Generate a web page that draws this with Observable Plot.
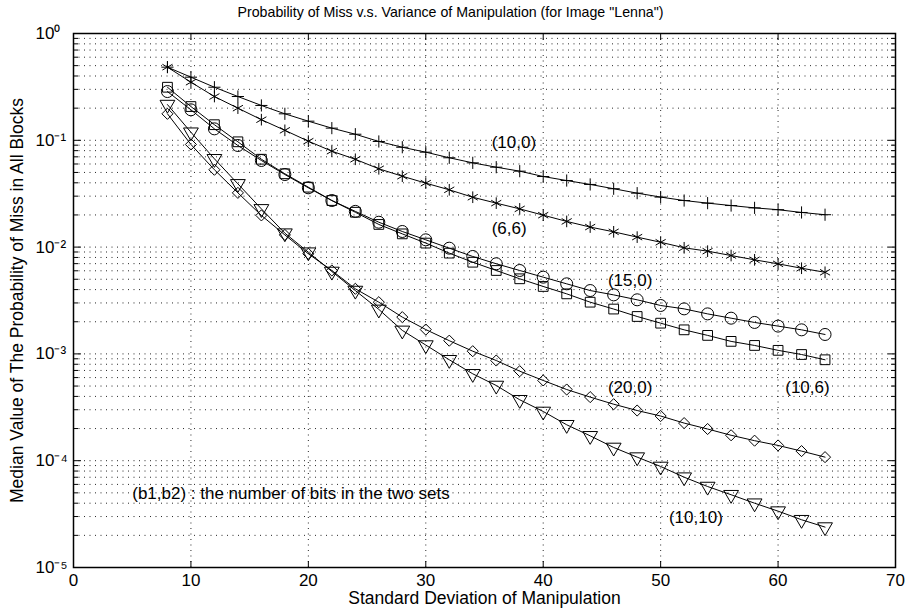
<!DOCTYPE html>
<html><head><meta charset="utf-8">
<script src="https://cdn.jsdelivr.net/npm/d3@7"></script>
<script src="https://cdn.jsdelivr.net/npm/@observablehq/plot@0.6"></script>
<style>
body{margin:0;background:#fff}
#chart svg{font-family:"Liberation Sans",Arial,Helvetica,sans-serif}
</style>
</head><body><div id="chart"></div>
<script>
// ---- data ----
const sigma = [8,10,12,14,16,18,20,22,24,26,28,30,32,34,36,38,40,42,44,46,48,50,52,54,56,58,60,62,64];

const p_10_0  = [0.484,0.390,0.314,0.257,0.212,0.177,0.151,0.130,0.114,0.0975,0.0861,0.0774,0.0686,0.0615,0.0560,0.0514,0.0458,0.0420,0.0386,0.0352,0.0320,0.0294,0.0273,0.0258,0.0245,0.0233,0.0224,0.0211,0.0201];
const p_6_6   = [0.484,0.350,0.257,0.200,0.156,0.124,0.0981,0.0791,0.0664,0.0541,0.0461,0.0397,0.0344,0.0293,0.0258,0.0228,0.0199,0.0174,0.0154,0.0139,0.0124,0.0111,0.00985,0.00916,0.00834,0.00760,0.00697,0.00634,0.00581];
const p_15_0  = [0.286,0.193,0.128,0.0894,0.0647,0.0478,0.0359,0.0273,0.0216,0.0171,0.0140,0.0117,0.00977,0.00817,0.00698,0.00604,0.00523,0.00453,0.00392,0.00357,0.00321,0.00284,0.00264,0.00237,0.00216,0.00197,0.00182,0.00168,0.00152];
const p_10_6  = [0.314,0.207,0.140,0.0968,0.0665,0.0486,0.0364,0.0273,0.0212,0.0163,0.0133,0.0109,0.00878,0.00722,0.00604,0.00505,0.00428,0.00365,0.00305,0.00263,0.00224,0.00194,0.00168,0.00149,0.00131,0.00120,0.00108,0.000987,0.000881];
const p_20_0  = [0.177,0.0914,0.0530,0.0322,0.0198,0.0130,0.00866,0.00604,0.00407,0.00305,0.00221,0.00169,0.00133,0.00106,0.000867,0.000689,0.000564,0.000464,0.000394,0.000338,0.000295,0.000262,0.000225,0.000198,0.000173,0.000154,0.000139,0.000123,0.000108];
const p_10_10 = [0.216,0.119,0.0671,0.0391,0.0228,0.0135,0.00896,0.00591,0.00392,0.00261,0.00166,0.00121,0.000881,0.000651,0.000506,0.000372,0.000289,0.000217,0.000171,0.000133,0.000108,0.0000883,0.0000701,0.0000573,0.0000480,0.0000400,0.0000337,0.0000280,0.0000239];

const seriesNames   = ["(10,0)","(6,6)","(15,0)","(10,6)","(20,0)","(10,10)"];
const seriesValues  = [p_10_0, p_6_6, p_15_0, p_10_6, p_20_0, p_10_10];
const seriesSymbols = ["plus","asterisk","circle","square","diamond2","triangle"];

const annText = ["(10,0)","(6,6)","(15,0)","(20,0)","(10,6)","(10,10)"];
const annX    = [37.5, 37.1, 47.4, 47.4, 62.5, 53.0];
const annY    = [0.0960, 0.0149, 0.00487, 0.000488, 0.000488, 0.0000296];
const noteText = "(b1,b2) : the number of bits in the two sets";
const noteX = 5.0, noteY = 0.0000493;

const xTicks = [0,10,20,30,40,50,60,70];
const yMajor = [1e-5,1e-4,1e-3,1e-2,1e-1,1];
const yMinor = yMajor.slice(0,-1).flatMap(d => [2,3,4,5,6,7,8,9].map(k => k*d));

const titleText = "Probability of Miss v.s. Variance of Manipulation (for Image \"Lenna\")";
const xLabel = "Standard Deviation of Manipulation";
const yLabel = "Median Value of The Probability of Miss in All Blocks";

// ---- helpers ----
const sup = {"0":"⁰","1":"¹","2":"²","3":"³","4":"⁴","5":"⁵","6":"⁶","7":"⁷","8":"⁸","9":"⁹","-":"⁻"};
const fmtPow = d => "10" + String(Math.round(Math.log10(d))).split("").map(c => sup[c]).join("");

const symR = {plus:4, asterisk:5.5, circle:6, square:5.5, diamond2:5, triangle:5.5};

const seriesMarks = seriesNames.flatMap((name, i) => {
  const rows = sigma.map((x, j) => ({x, y: seriesValues[i][j]}));
  const sym = seriesSymbols[i];
  return [
    Plot.line(rows, {x: "x", y: "y", stroke: "#000", strokeWidth: 1}),
    Plot.dot(rows, {x: "x", y: "y", symbol: sym, r: symR[sym], stroke: "#000", fill: "none", strokeWidth: 1, rotate: sym === "triangle" ? 180 : 0})
  ];
});

const dotted = {stroke: "#000", strokeOpacity: 0.85, strokeWidth: 1, strokeDasharray: "1,4.5"};
const tickOpts = {tickFormat: null, text: null, label: null, stroke: "#000"};

const chart = Plot.plot({
  width: 913, height: 611,
  marginLeft: 73, marginRight: 18, marginTop: 33, marginBottom: 44,
  style: {background: "#fff", color: "#000", fontSize: "16px"},
  x: {domain: [0, 70]},
  y: {type: "log", domain: [1e-5, 1]},
  marks: [
    Plot.gridX(xTicks.slice(1, -1), dotted),
    Plot.gridY(yMajor.concat(yMinor), dotted),
    // inward tick marks
    Plot.axisX(xTicks, {anchor: "bottom", tickSize: -6, ...tickOpts}),
    Plot.axisX(xTicks, {anchor: "top", tickSize: -6, ...tickOpts}),
    Plot.axisY(yMajor, {anchor: "left", tickSize: -8, ...tickOpts}),
    Plot.axisY(yMajor, {anchor: "right", tickSize: -8, ...tickOpts}),
    Plot.axisY(yMinor, {anchor: "left", tickSize: -5, ...tickOpts}),
    Plot.axisY(yMinor, {anchor: "right", tickSize: -5, ...tickOpts}),
    // tick labels
    Plot.axisX(xTicks, {anchor: "bottom", tickSize: 0, tickPadding: 6, tickFormat: d => String(d), label: null, fontSize: 17}),
    Plot.text(yMajor, {y: d => d, frameAnchor: "left", dx: -38, textAnchor: "start", text: fmtPow, fontSize: 17}),
    Plot.frame({stroke: "#000", strokeWidth: 1.5}),
    ...seriesMarks,
    Plot.text(annText, {x: (d, i) => annX[i], y: (d, i) => annY[i], text: d => d, fontSize: 17, fill: "#000"}),
    Plot.text([noteText], {x: () => noteX, y: () => noteY, text: d => d, textAnchor: "start", fontSize: 17, fill: "#000"}),
    Plot.text([titleText], {frameAnchor: "top", textAnchor: "middle", lineAnchor: "middle", dx: -34, dy: -21, text: d => d, fontSize: 14.2}),
    Plot.text([xLabel], {frameAnchor: "bottom", textAnchor: "middle", lineAnchor: "middle", dy: 31, text: d => d, fontSize: 17.5}),
    Plot.text([yLabel], {frameAnchor: "left", textAnchor: "middle", lineAnchor: "middle", dx: -56, rotate: -90, text: d => d, fontSize: 17.5})
  ]
});
document.getElementById("chart").appendChild(chart);
</script>
</body></html>
